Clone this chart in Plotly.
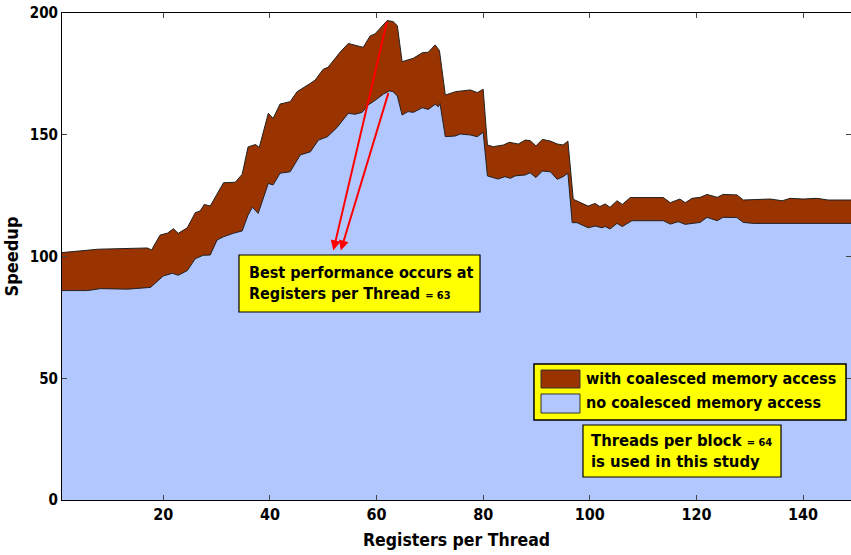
import plotly.graph_objects as go

# Registers per thread (x) and speedup readings
x_with = [1, 7.8, 17.0, 17.8, 19.4, 20.8, 21.9, 22.8, 24.5, 26.0, 26.9, 27.7, 28.8, 31.3, 33.5,
          34.8, 35.9, 37.3, 38.0, 39.7, 40.6, 41.9, 43.8, 45.1, 47.6, 48.5, 50.0, 50.9, 53.2,
          54.7, 57.5, 58.8, 59.7, 62.0, 63.1, 63.9, 64.8, 66.9, 68.6, 69.7, 71.0, 71.8, 72.9,
          74.8, 77.6, 78.9, 80.0, 80.8, 81.9, 83.8, 84.9, 86.6, 87.9, 88.8, 89.9, 91.1, 92.6,
          93.9, 95.0, 95.9, 96.9, 99.7, 101.0, 101.9, 102.9, 103.8, 105.1, 106.1, 107.6, 113.8,
          115.1, 116.9, 117.9, 119.2, 120.7, 122.0, 123.9, 125.0, 127.6, 128.8, 133.8, 136.1,
          137.6, 140.0, 142.6, 144.7, 149.0]
y_with = [101.6, 103.0, 103.5, 102.7, 108.8, 109.6, 111.4, 109.5, 111.8, 118.0, 118.7, 121.4,
          120.7, 130.3, 130.5, 133.8, 145.0, 146.0, 144.8, 158.8, 156.7, 162.6, 163.6, 167.7,
          171.1, 172.5, 176.9, 177.7, 184.0, 187.5, 185.9, 190.6, 191.4, 196.9, 196.5, 194.8,
          180.0, 181.4, 183.7, 183.9, 186.9, 184.6, 166.3, 167.7, 168.4, 167.3, 168.7, 145.8,
          145.1, 145.8, 146.9, 146.2, 147.8, 147.6, 145.4, 148.1, 147.4, 146.2, 145.8, 147.4,
          123.5, 120.7, 121.8, 120.5, 121.6, 120.2, 122.9, 121.4, 124.2, 124.2, 122.1, 123.6,
          122.1, 123.9, 124.3, 125.5, 124.3, 125.5, 125.3, 123.2, 123.6, 122.9, 123.9, 123.6,
          123.9, 123.2, 123.2]

x_no = [1, 5.8, 8.2, 13.3, 17.6, 20.0, 21.7, 22.8, 24.5, 26.0, 27.5, 28.8, 30.1, 31.3, 33.1,
        34.8, 35.9, 36.7, 37.8, 39.7, 40.6, 41.9, 43.8, 45.7, 47.6, 49.1, 50.8, 52.6, 54.7,
        56.0, 57.3, 58.4, 59.4, 61.3, 62.4, 63.1, 63.9, 64.8, 65.9, 66.9, 68.6, 69.7, 71.0,
        71.6, 71.9, 72.9, 74.8, 75.7, 77.6, 78.9, 80.0, 80.8, 82.8, 84.1, 85.1, 86.0, 87.9,
        88.8, 89.9, 91.1, 92.6, 93.9, 95.0, 95.9, 96.7, 97.6, 99.7, 101.0, 102.3, 102.9, 103.8,
        105.1, 106.1, 107.9, 113.8, 115.1, 116.6, 117.9, 120.7, 122.0, 123.9, 125.0, 127.6,
        128.8, 130.7, 149.0]
y_no = [86.0, 86.0, 86.8, 86.6, 87.3, 92.0, 93.1, 92.3, 94.2, 99.1, 100.5, 100.6, 106.8, 108.1,
        109.5, 110.5, 117.0, 120.2, 117.7, 130.0, 129.4, 134.2, 134.8, 141.7, 143.0, 147.8,
        149.2, 153.0, 158.8, 158.4, 159.2, 162.2, 163.6, 166.7, 168.0, 167.7, 165.9, 158.1,
        159.5, 159.2, 161.1, 160.4, 162.5, 161.5, 162.9, 149.2, 149.5, 150.3, 149.9, 149.2,
        151.0, 133.1, 131.8, 132.8, 132.1, 133.1, 133.5, 134.4, 132.4, 135.1, 134.8, 131.7,
        132.8, 134.2, 113.9, 113.9, 111.8, 112.5, 111.8, 112.3, 111.3, 113.6, 112.3, 114.7,
        114.7, 113.3, 114.3, 113.2, 114.0, 116.1, 114.7, 116.1, 116.0, 114.0, 113.6, 113.6]

x_ticks = [20, 40, 60, 80, 100, 120, 140]
y_ticks = [0, 50, 100, 150, 200]
series_names = ["with coalesced memory access", "no coalesced memory access"]
series_colors = ["#993300", "#B3C7FF"]

FONT = "DejaVu Sans Condensed, DejaVu Sans, sans-serif"

fig = go.Figure()
fig.add_trace(go.Scatter(x=x_with, y=y_with, mode="lines", fill="tozeroy",
                         fillcolor=series_colors[0], line=dict(color="#222222", width=1),
                         name=series_names[0], showlegend=False))
fig.add_trace(go.Scatter(x=x_no, y=y_no, mode="lines", fill="tozeroy",
                         fillcolor=series_colors[1], line=dict(color="#222222", width=1),
                         name=series_names[1], showlegend=False))

# Arrows toward the text box
fig.add_annotation(x=51.9, y=102.5, ax=62.0, ay=196.9, xref="x", yref="y",
                   axref="x", ayref="y", showarrow=True, arrowhead=2, arrowsize=1,
                   arrowwidth=2, arrowcolor="#FF0000", text="")
fig.add_annotation(x=53.3, y=102.5, ax=62.3, ay=167.7, xref="x", yref="y",
                   axref="x", ayref="y", showarrow=True, arrowhead=2, arrowsize=1,
                   arrowwidth=2, arrowcolor="#FF0000", text="")

shapes = []
# Note boxes
shapes.append(dict(type="rect", xref="paper", yref="paper", x0=0.2243, x1=0.5298,
                   y0=0.3860, y1=0.5031, fillcolor="#FFFF00",
                   line=dict(color="black", width=1.2), layer="above"))
fig.add_annotation(x=0.2345, y=0.4456, xref="paper", yref="paper", xanchor="left",
                   yanchor="middle", showarrow=False, align="left",
                   text="Best performance occurs at<br>Registers per Thread <span style='font-size:11px'>= 63</span>",
                   font=dict(family=FONT, size=16, color="black", weight="bold"))
shapes.append(dict(type="rect", xref="paper", yref="paper", x0=0.6603, x1=0.9113,
                   y0=0.0472, y1=0.1540, fillcolor="#FFFF00",
                   line=dict(color="black", width=1.2), layer="above"))
fig.add_annotation(x=0.6679, y=0.1006, xref="paper", yref="paper", xanchor="left",
                   yanchor="middle", showarrow=False, align="left",
                   text="Threads per block <span style='font-size:11px'>= 64</span><br>is used in this study",
                   font=dict(family=FONT, size=16.5, color="black", weight="bold"))

# Legend drawn as a boxed key
shapes.append(dict(type="rect", xref="paper", yref="paper", x0=0.5982, x1=0.9937,
                   y0=0.1643, y1=0.2793, fillcolor="#FFFF00",
                   line=dict(color="black", width=1.5), layer="above"))
sw_y = [(0.2300, 0.2669), (0.1786, 0.2177)]
tx_y = [0.2485, 0.1992]
for i in range(2):
    shapes.append(dict(type="rect", xref="paper", yref="paper", x0=0.6071, x1=0.6565,
                       y0=sw_y[i][0], y1=sw_y[i][1], fillcolor=series_colors[i],
                       line=dict(color="#333333", width=1), layer="above"))
    fig.add_annotation(x=0.6616, y=tx_y[i], xref="paper", yref="paper", xanchor="left",
                       yanchor="middle", showarrow=False, text=series_names[i],
                       font=dict(family=FONT, size=16, color="black", weight="bold"))

fig.update_layout(
    width=851, height=555,
    margin=dict(l=62, r=0, t=13, b=55),
    plot_bgcolor="white", paper_bgcolor="white",
    font=dict(family=FONT, size=15, color="black", weight="bold"),
    shapes=shapes,
    xaxis=dict(range=[1, 149], tickvals=x_ticks, ticks="inside", ticklen=5,
               showgrid=False, zeroline=False, showline=True, linecolor="black",
               linewidth=1, mirror="ticks",
               tickfont=dict(family=FONT, size=16, color="black", weight="bold"),
               title=dict(text="Registers per Thread", standoff=10,
                          font=dict(family=FONT, size=17.5, color="black", weight="bold"))),
    yaxis=dict(range=[0, 200], tickvals=y_ticks, ticks="inside", ticklen=5,
               showgrid=False, zeroline=False, showline=True, linecolor="black",
               linewidth=1, mirror="ticks",
               tickfont=dict(family=FONT, size=15, color="black", weight="bold"),
               title=dict(text="Speedup", standoff=6,
                          font=dict(family=FONT, size=18, color="black", weight="bold"))),
)

fig.write_html("out.html", config={"displayModeBar": False},
               post_script="document.body.style.margin='0px';document.body.style.overflow='hidden';")
